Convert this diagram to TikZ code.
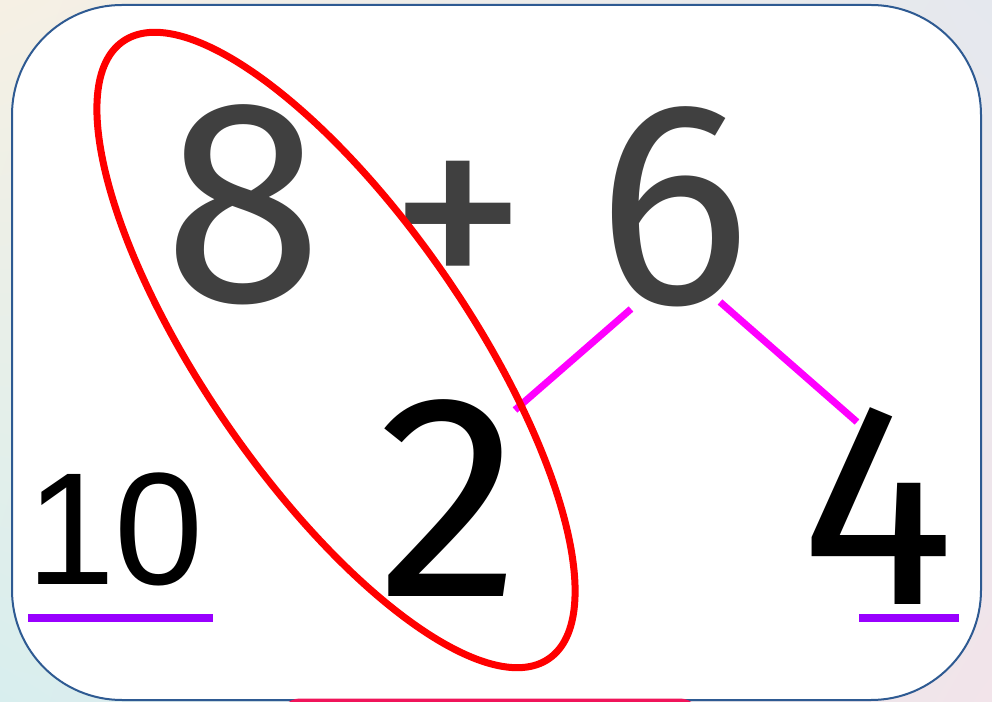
\documentclass[tikz,border=0pt]{standalone}
\usepackage{fontspec}
\usepackage{xcolor}
\usetikzlibrary{shadings}
\setmainfont{Liberation Sans}
\newfontfamily\digitfont{Fira Sans}
\definecolor{cardline}{HTML}{2E5A92}
\definecolor{digitgray}{HTML}{404040}
\definecolor{splitline}{HTML}{FF00FF}
\definecolor{answerline}{HTML}{9900FF}
\definecolor{ringred}{HTML}{FF0000}
\definecolor{pinkbar}{HTML}{F0145A}
\definecolor{bgtl}{HTML}{F6F0E4}
\definecolor{bgtr}{HTML}{E5E8EE}
\definecolor{bgbl}{HTML}{D8EEEE}
\definecolor{bgbr}{HTML}{F2E4EA}

\begin{document}
\begin{tikzpicture}[x=1pt, y=1pt,
    bigdigit/.style={anchor=base, inner sep=0pt, font=\digitfont\fontsize{290}{290}\selectfont},
    split/.style={line width=7pt, splitline},
    answer/.style={line width=8pt, answerline}]
    \useasboundingbox (0,0) rectangle (992,701);
    \clip (0,0) rectangle (992,701);

    % Background
    \shade[upper left=bgtl, upper right=bgtr, lower left=bgbl, lower right=bgbr]
        (0,0) rectangle (992,701);

    % Card
    \draw[line width=2pt, cardline, fill=white, rounded corners=110pt] (12,1) rectangle (981,696);

    % Bar below the card
    \fill[pinkbar, rounded corners=20pt] (280,2.5) rectangle (700,-40);

    % Sum
    \node[bigdigit, digitgray] (eight) at (243,399) {8};
    \node[inner sep=0pt, digitgray, font=\digitfont\fontsize{280}{280}\selectfont] (plus) at (458,467) {+};
    \node[bigdigit, digitgray] (six) at (674,397) {6};

    % Parts of 6
    \node[bigdigit] (two) at (449,104) {2};
    \node[bigdigit] (four) at (878,96) {4};
    \coordinate (sixleft) at (631,392);
    \coordinate (sixright) at (720,399);
    \coordinate (twotop) at (515,291);
    \coordinate (fourtop) at (857,279);
    \draw[split] (sixleft) -- (twotop);
    \draw[split] (sixright) -- (fourtop);

    % Ten
    \node[anchor=base, inner sep=0pt, font=\fontsize{160}{160}\selectfont] (ten) at (115,116) {10};
    \draw[answer] (28,83) -- (213,83);
    \draw[answer] (859,83) -- (959,83);

    % Ring round 8 and 2
    \draw[line width=7pt, ringred] (336,351) ellipse [x radius=375, y radius=132, rotate=-55.4];
\end{tikzpicture}
\end{document}
